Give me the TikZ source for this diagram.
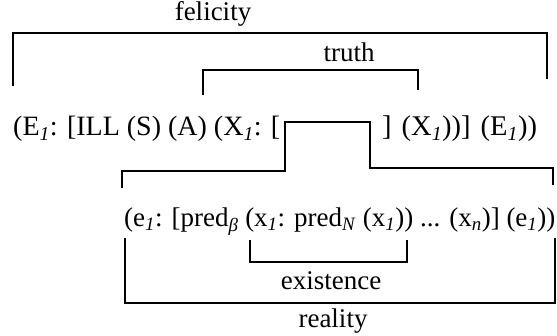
\documentclass[tikz,border=0pt]{standalone}
\usepackage{fontspec}
\setmainfont{Liberation Serif}
\newcommand{\sbi}[1]{\textsubscript{\textit{#1}}}
\begin{document}
\begin{tikzpicture}[x=1pt,y=-1pt,
  txt/.style={inner sep=0pt,font=\fontsize{27}{30}\selectfont},
  txtb/.style={inner sep=0pt,font=\fontsize{28}{30}\selectfont},
  brk/.style={line width=1.8pt,line join=miter}]
\useasboundingbox (0,0) rectangle (557,336);
% labels
\node[txt] (fel) at (213,14) {felicity};
\node[txt] (tru) at (349,52) {truth};
\node[txt] (exi) at (331,281) {existence};
\node[txt] (rea) at (333,321) {reality};
% line 1
\node[txtb,anchor=base west] (la) at (13,136) {(E\sbi{1}: [ILL (S) (A) (X\sbi{1}: [};
\node[txtb,anchor=base west] (lb) at (382,136) {\fontsize{28.5}{30}\selectfont\spaceskip=10pt plus 0pt minus 0pt ] (X\sbi{1}))] (E\sbi{1}))};
% line 2
\node[txt,anchor=base west] (lc) at (124,227) {(e\sbi{1}: [pred\textsubscript{\textit{β}} (x\sbi{1}: pred\sbi{N} (x\sbi{1})) ... (x\sbi{n})] (e\sbi{1}))};
% felicity bracket
\draw[brk] (13,86) -- (13,33) -- (547,33) -- (547,79);
% truth bracket
\draw[brk] (203,95) -- (203,70) -- (418,70) -- (418,90);
% step line
\draw[brk] (122,188) -- (122,171) -- (285,171) -- (285,122) -- (370,122) -- (370,168) -- (553,168) -- (553,185);
% existence bracket
\draw[brk] (250,240) -- (250,262) -- (407,262) -- (407,240);
% reality bracket
\draw[brk] (125,238) -- (125,303) -- (555,303) -- (555,238);
\end{tikzpicture}
\end{document}
